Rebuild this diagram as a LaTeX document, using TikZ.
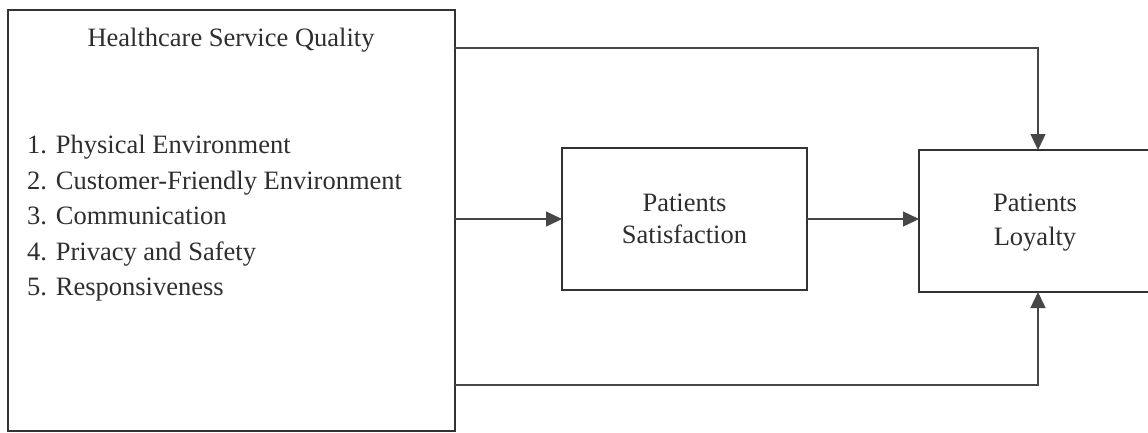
\documentclass[tikz,border=0pt]{standalone}
\usepackage{fontspec}
\setmainfont{Liberation Serif}
\usetikzlibrary{arrows.meta}
\begin{document}
\begin{tikzpicture}[x=1pt,y=-1pt,
  boxstyle/.style={draw=black!80,line width=1.6pt,rectangle,inner sep=0pt,outer sep=0pt},
  txt/.style={text=black!82,font=\fontsize{26.5}{32}\selectfont,inner sep=0pt},
  arr/.style={draw=black!72,line width=1.4pt,-{Triangle[length=16pt,width=15pt]}}]
\useasboundingbox (0,0) rectangle (1148,432);
\clip (0,0) rectangle (1148,432);
\fill[white] (0,0) rectangle (1148,432);
\node[boxstyle,minimum width=447pt,minimum height=421pt] (hsq) at (231.5,220.5) {};
\node[boxstyle,minimum width=245pt,minimum height=142pt] (sat) at (684.5,219) {};
\node[boxstyle,minimum width=232pt,minimum height=142pt] (loy) at (1035,221) {};
\node[txt,anchor=base] (title) at (231,46) {Healthcare Service Quality};
\node[txt,anchor=north west,align=left,font=\fontsize{26.5}{35.5}\selectfont] (list) at (27,135)
  {1. Physical Environment\\2. Customer-Friendly Environment\\3. Communication\\4. Privacy and Safety\\5. Responsiveness};
\node[txt,align=center] (sattxt) at (sat.center) {Patients\\Satisfaction};
\node[txt,align=center,font=\fontsize{26.5}{34.5}\selectfont] (loytxt) at ([yshift=-1.5pt]loy.center) {Patients\\Loyalty};
\coordinate (topin) at ([xshift=3pt]loy.north);
\coordinate (botin) at ([xshift=3pt]loy.south);
\draw[arr] (hsq.east |- 0,48) -| (topin);
\draw[arr] (hsq.east |- 0,385) -| (botin);
\draw[arr] (hsq.east |- sat.west) -- (sat.west);
\draw[arr] (sat.east) -- (loy.west |- sat.east);
\end{tikzpicture}
\end{document}
